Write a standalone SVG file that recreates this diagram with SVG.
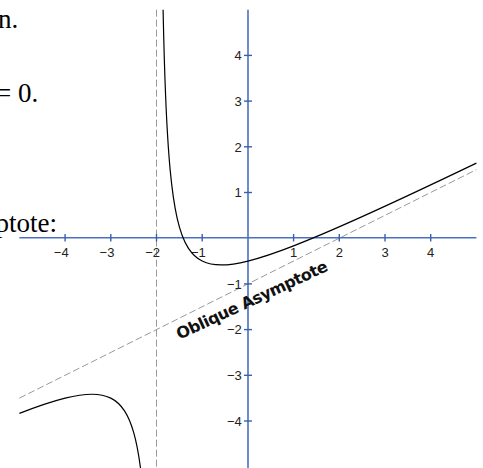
<svg xmlns="http://www.w3.org/2000/svg" width="483" height="468" viewBox="0 0 483 468">
<style>
.page{font-family:"Liberation Serif","Times New Roman",serif;font-size:27px;fill:#000}
.axis{stroke:#4a70c0;stroke-width:1.6;fill:none}
.tick{stroke:#3a5fb0;stroke-width:1.4}
.tl{font-family:"Liberation Sans",Arial,sans-serif;font-size:13px;fill:#222}
.dash{stroke:#9a9a9a;stroke-width:1;fill:none;stroke-dasharray:7 3}
.curve{stroke:#000;stroke-width:1.2;fill:none}
.lbl{font-family:"DejaVu Sans",Verdana,sans-serif;font-weight:bold;font-size:16px;letter-spacing:-0.5px;fill:#111}
</style>
<rect width="483" height="468" fill="#fff"/>
<g id="page-text">
<text class="page" x="-2" y="28">n.</text>
<text class="page" x="-4" y="101.5">= 0.</text>
<text class="page" x="-4.5" y="232">ptote:</text>
</g>
<g id="asymptotes">
<line class="dash" x1="156.5" y1="9.7" x2="156.5" y2="468"/>
<line class="dash" x1="19.4" y1="398.15" x2="476.4" y2="169.65"/>
</g>
<g id="axes">
<line class="axis" x1="19.4" y1="237.8" x2="476.4" y2="237.8"/>
<line class="axis" x1="248" y1="9.7" x2="248" y2="468"/>
<g id="x-ticks">
<line class="tick" x1="65.1" y1="234" x2="65.1" y2="241.5"/>
<line class="tick" x1="110.8" y1="234" x2="110.8" y2="241.5"/>
<line class="tick" x1="156.5" y1="234" x2="156.5" y2="241.5"/>
<line class="tick" x1="202.2" y1="234" x2="202.2" y2="241.5"/>
<line class="tick" x1="293.6" y1="234" x2="293.6" y2="241.5"/>
<line class="tick" x1="339.3" y1="234" x2="339.3" y2="241.5"/>
<line class="tick" x1="385" y1="234" x2="385" y2="241.5"/>
<line class="tick" x1="430.7" y1="234" x2="430.7" y2="241.5"/>
</g>
<g id="y-ticks">
<line class="tick" x1="244" y1="55.4" x2="252" y2="55.4"/>
<line class="tick" x1="244" y1="101.1" x2="252" y2="101.1"/>
<line class="tick" x1="244" y1="146.8" x2="252" y2="146.8"/>
<line class="tick" x1="244" y1="192.5" x2="252" y2="192.5"/>
<line class="tick" x1="244" y1="283.9" x2="252" y2="283.9"/>
<line class="tick" x1="244" y1="329.6" x2="252" y2="329.6"/>
<line class="tick" x1="244" y1="375.3" x2="252" y2="375.3"/>
<line class="tick" x1="244" y1="421" x2="252" y2="421"/>
</g>
<g id="x-labels" class="tl">
<text x="68.7" y="256.5" text-anchor="end">−4</text>
<text x="114.4" y="256.5" text-anchor="end">−3</text>
<text x="160.1" y="256.5" text-anchor="end">−2</text>
<text x="205.8" y="256.5" text-anchor="end">−1</text>
<text x="293.6" y="256.5" text-anchor="middle">1</text>
<text x="339.3" y="256.5" text-anchor="middle">2</text>
<text x="385" y="256.5" text-anchor="middle">3</text>
<text x="430.7" y="256.5" text-anchor="middle">4</text>
</g>
<g id="y-labels" class="tl" text-anchor="end">
<text x="241.8" y="60.1">4</text>
<text x="241.8" y="105.8">3</text>
<text x="241.8" y="151.5">2</text>
<text x="241.8" y="197.2">1</text>
<text x="241.8" y="288.6">−1</text>
<text x="241.8" y="334.3">−2</text>
<text x="241.8" y="380">−3</text>
<text x="241.8" y="425.7">−4</text>
</g>
</g>
<g id="curve">
<path class="curve" d="M163.09,9.7 C163.94,50.03 164.79,75.74 165.64,96.53 C167.16,133.85 168.69,154.25 170.21,170.41 C172.49,194.66 174.78,207.62 177.06,217.76 C180.87,234.66 184.68,242.45 188.49,248.32 C193.06,255.36 197.63,258.77 202.2,261.05 C208.51,264.2 214.81,264.97 221.12,264.97 C230.05,264.97 238.97,263.28 247.9,261.05 C263.13,257.24 278.37,251.74 293.6,245.82 C316.45,236.93 339.3,226.92 362.15,216.62 C400.23,199.46 438.32,181.39 476.4,163.12"/>
<path class="curve" d="M19.4,413.38 C34.63,407.46 49.87,401.96 65.1,398.15 C74.03,395.92 82.95,394.23 91.88,394.23 C98.19,394.23 104.49,395 110.8,398.15 C115.37,400.44 119.94,403.84 124.51,410.88 C127.56,415.58 130.6,421.76 133.65,432.43 C135.87,440.2 138.09,450.11 140.31,466.7 L140.5,468"/>
</g>
<g id="asymptote-label">
<text class="lbl" transform="translate(179.6,339.8) rotate(-25)">Oblique Asymptote</text>
</g>
</svg>
